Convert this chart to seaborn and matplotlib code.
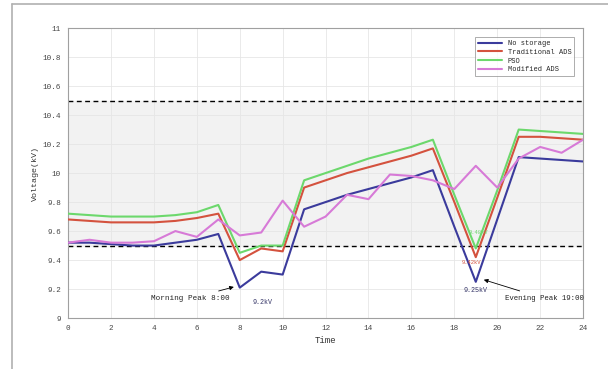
import numpy as np
import pandas as pd
import matplotlib
matplotlib.use("Agg")
import matplotlib.pyplot as plt
import seaborn as sns

hours = list(range(25))

no_storage = [9.52, 9.52, 9.51, 9.50, 9.50, 9.52, 9.54, 9.58, 9.21, 9.32, 9.30,
              9.75, 9.80, 9.85, 9.89, 9.93, 9.97, 10.02, 9.63, 9.25, 9.68,
              10.11, 10.10, 10.09, 10.08]
traditional_ads = [9.68, 9.67, 9.66, 9.66, 9.66, 9.67, 9.69, 9.72, 9.40, 9.48, 9.46,
                   9.90, 9.95, 10.00, 10.04, 10.08, 10.12, 10.17, 9.80, 9.42, 9.83,
                   10.25, 10.25, 10.24, 10.23]
pso = [9.72, 9.71, 9.70, 9.70, 9.70, 9.71, 9.73, 9.78, 9.45, 9.50, 9.50,
       9.95, 10.00, 10.05, 10.10, 10.14, 10.18, 10.23, 9.85, 9.48, 9.88,
       10.30, 10.29, 10.28, 10.27]
modified_ads = [9.52, 9.54, 9.52, 9.52, 9.53, 9.60, 9.56, 9.68, 9.57, 9.59, 9.81,
                9.63, 9.70, 9.85, 9.82, 9.99, 9.98, 9.95, 9.89, 10.05, 9.90,
                10.10, 10.18, 10.14, 10.23]

series_names = ["No storage", "Traditional ADS", "PSO", "Modified ADS"]
series_colors = ["#3b3b9c", "#d4523e", "#6cd86c", "#d77ad7"]

upper_limit = 10.5
lower_limit = 9.5

df = pd.DataFrame({
    "Time": hours * 4,
    "Voltage": no_storage + traditional_ads + pso + modified_ads,
    "Scheme": [n for n in series_names for _ in hours],
})

sns.set_style("whitegrid")
plt.rcParams["font.family"] = ["Liberation Mono", "DejaVu Sans Mono"]

fig = plt.figure(figsize=(6.08, 3.69), dpi=100)
ax = fig.add_axes([0.112, 0.138, 0.847, 0.786])

# frame around the figure (left and top edges visible)
fig.add_artist(plt.Line2D([12 / 608, 12 / 608], [0, 1 - 4 / 369], color="#b0b0b0", lw=1.2,
                          transform=fig.transFigure))
fig.add_artist(plt.Line2D([12 / 608, 1], [1 - 4 / 369, 1 - 4 / 369], color="#b0b0b0", lw=1.2,
                          transform=fig.transFigure))

ax.axhspan(lower_limit, upper_limit, color="#f2f2f2", zorder=0)
ax.axhline(upper_limit, color="black", ls="--", lw=1.0, dashes=(3.5, 2.5), zorder=2)
ax.axhline(lower_limit, color="black", ls="--", lw=1.0, dashes=(3.5, 2.5), zorder=2)

sns.lineplot(data=df, x="Time", y="Voltage", hue="Scheme", hue_order=series_names,
             palette=series_colors, lw=1.5, ax=ax, zorder=3)

ax.set_xlim(0, 24)
ax.set_ylim(9, 11)
ax.set_xticks(range(0, 25, 2))
ax.set_yticks(np.arange(9, 11.01, 0.2))
ax.set_yticklabels(["9", "9.2", "9.4", "9.6", "9.8", "10", "10.2", "10.4", "10.6", "10.8", "11"])
ax.tick_params(labelsize=5.5, direction="in", length=2, colors="#444444", pad=5)
ax.grid(True, color="#e6e6e6", lw=0.6)
ax.set_xlabel("Time", fontsize=6.5, color="#333333", labelpad=3)
ax.set_ylabel("Voltage(kV)", fontsize=6, color="#333333", labelpad=3)
for s in ax.spines.values():
    s.set_color("#a0a0a0")
    s.set_linewidth(0.8)

leg = ax.legend(loc="upper right", fontsize=5, frameon=True, fancybox=False,
                borderpad=0.4, handlelength=3.5, labelspacing=0.25, bbox_to_anchor=(0.99, 0.98))
leg.get_frame().set_edgecolor("#888888")
leg.get_frame().set_linewidth(0.6)

# peak annotations
ax.annotate("Morning Peak 8:00", xy=(7.85, 9.22), xytext=(7.55, 9.135), fontsize=5.5,
            ha="right", va="center", color="#222222",
            arrowprops=dict(arrowstyle="-|>", color="black", lw=0.6, mutation_scale=6))
ax.text(8.6, 9.11, "9.2kV", fontsize=4.8, color="#333366", ha="left", va="center")
ax.annotate("Evening Peak 19:00", xy=(19.25, 9.27), xytext=(20.35, 9.135), fontsize=5.3,
            ha="left", va="center", color="#222222",
            arrowprops=dict(arrowstyle="-|>", color="black", lw=0.6, mutation_scale=6))
ax.text(19.0, 9.19, "9.25kV", fontsize=4.8, color="#333366", ha="center", va="center")
ax.text(19.1, 9.59, "9.48kV", fontsize=4, color="#6cd86c", ha="center", va="center")
ax.text(18.8, 9.38, "9.42kV", fontsize=4, color="#d4523e", ha="center", va="center")

fig.savefig("out.png", dpi=100)
